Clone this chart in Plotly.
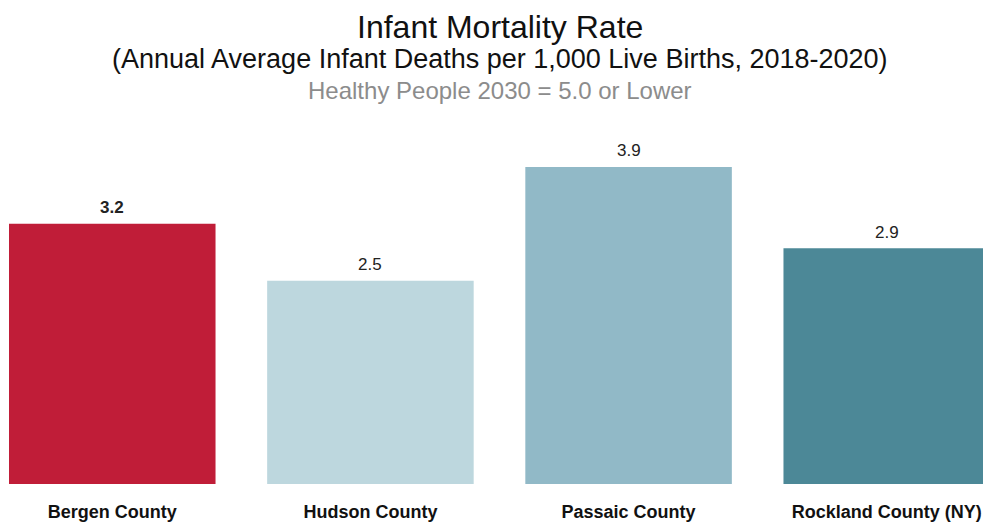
import plotly.graph_objects as go

counties = ["Bergen County", "Hudson County", "Passaic County", "Rockland County (NY)"]
rates = [3.2, 2.5, 3.9, 2.9]
bar_colors = ["#C01D38", "#BDD7DE", "#91B9C7", "#4C8897"]

FONT = "Liberation Sans, Arial, sans-serif"
# the page body has an 8px margin, so the figure is sized to fit inside it
TOP = 102

fig = go.Figure()
fig.add_trace(go.Bar(
    x=counties,
    y=rates,
    marker=dict(color=bar_colors, line=dict(width=0)),
    width=0.8,
    hoverinfo="x+y",
))

# value labels above the bars, Bergen in bold
for i, (c, v) in enumerate(zip(counties, rates)):
    txt = f"<b>{v:.1f}</b>" if i == 0 else f"{v:.1f}"
    fig.add_annotation(x=c, y=v, text=txt, showarrow=False, yanchor="middle", yshift=16,
                       font=dict(family=FONT, size=17, color="#222"))

def header(text, top_px, size, color):
    fig.add_annotation(text=text, x=0.5, y=1.0, xref="paper", yref="paper",
                       xanchor="center", yanchor="top", yshift=TOP - top_px,
                       showarrow=False, borderpad=0,
                       font=dict(family=FONT, size=size, color=color))

header("Infant Mortality Rate", 0, 32, "#111")
header("(Annual Average Infant Deaths per 1,000 Live Births, 2018-2020)", 35, 27, "#111")
header("Healthy People 2030 = 5.0 or Lower", 68, 24, "#8c8c8c")

fig.update_layout(
    width=983, height=519,
    margin=dict(l=1, r=1, t=TOP, b=43),
    paper_bgcolor="white", plot_bgcolor="white",
    showlegend=False,
    xaxis=dict(range=[-0.4, 3.4], showgrid=False, zeroline=False, showline=False, ticks="",
               tickfont=dict(family=FONT, size=18, color="#111", weight="bold"),
               ticklabelstandoff=15, automargin=False),
    yaxis=dict(range=[0, 4.6], visible=False),
)

fig.write_html("out.html")
